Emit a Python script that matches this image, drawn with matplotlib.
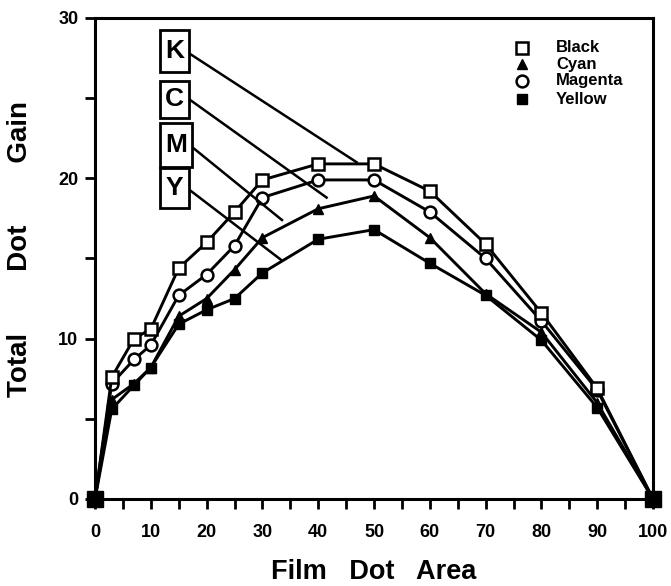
import matplotlib
matplotlib.use("Agg")
import matplotlib.pyplot as plt
from matplotlib.patches import Rectangle
from matplotlib.ticker import MultipleLocator

plt.rcParams['font.family'] = ['Liberation Sans', 'DejaVu Sans']

# ---- data ----
film_dot_area = [0, 3, 7, 10, 15, 20, 25, 30, 40, 50, 60, 70, 80, 90, 100]
black   = [0, 7.6, 10.0, 10.6, 14.4, 16.0, 17.9, 19.9, 20.9, 20.9, 19.2, 15.9, 11.6, 6.9, 0]
cyan    = [0, 6.2, 7.2, 8.2, 11.4, 12.5, 14.3, 16.3, 18.1, 18.9, 16.3, 12.8, 10.4, 6.0, 0]
magenta = [0, 7.2, 8.7, 9.6, 12.7, 14.0, 15.8, 18.8, 19.9, 19.9, 17.9, 15.0, 11.1, 6.8, 0]
yellow  = [0, 5.6, 7.1, 8.2, 10.9, 11.8, 12.5, 14.1, 16.2, 16.8, 14.7, 12.7, 9.9, 5.7, 0]

series_names = ["Black", "Cyan", "Magenta", "Yellow"]
box_letters = ["K", "C", "M", "Y"]
# leader lines: (start x, start y) -> (end x, end y) in data units
leader_start = [(16.85, 27.8), (17.0, 24.9), (17.4, 21.95), (16.85, 19.3)]
leader_end   = [(46.9, 21.0), (41.5, 18.8), (33.5, 17.4), (33.4, 14.9)]
# label boxes: (x0, y0, width, height) in data units
boxes = [(11.65, 26.64, 5.2, 2.62), (11.65, 23.77, 5.2, 2.31),
         (11.65, 20.71, 5.73, 2.75), (11.65, 18.15, 5.2, 2.5)]

styles = {
    "Black":   dict(marker='s', ms=9,   mfc='white', mec='black', mew=1.8),
    "Cyan":    dict(marker='^', ms=7.5, mfc='black', mec='black', mew=1.0),
    "Magenta": dict(marker='o', ms=8.5, mfc='white', mec='black', mew=1.8),
    "Yellow":  dict(marker='s', ms=7.5, mfc='black', mec='black', mew=1.0),
}
values = {"Black": black, "Cyan": cyan, "Magenta": magenta, "Yellow": yellow}
zorders = {"Yellow": 3, "Cyan": 3.5, "Magenta": 4, "Black": 5}

fig = plt.figure(figsize=(6.71, 5.86), dpi=100)
ax = fig.add_axes([0.1416, 0.1485, 0.8316, 0.8208])

for name in ["Yellow", "Cyan", "Magenta", "Black"]:
    ax.plot(film_dot_area, values[name], color='black', lw=2.1,
            zorder=zorders[name], **styles[name])
# endpoint squares at 0 and 100
ax.plot([film_dot_area[0], film_dot_area[-1]], [black[0], black[-1]], ls='none',
        marker='s', ms=11, color='black', zorder=6, clip_on=False)

# label boxes and leader lines
for (x0, y0, w, h), letter, (sx, sy), (ex, ey) in zip(boxes, box_letters, leader_start, leader_end):
    ax.add_patch(Rectangle((x0, y0), w, h, fill=True, facecolor='white',
                           edgecolor='black', lw=2.0, zorder=7))
    ax.text(x0 + w / 2, y0 + h / 2, letter, ha='center', va='center',
            fontsize=19, fontweight='bold', zorder=8)
    ax.plot([sx, ex], [sy, ey], color='black', lw=1.8, zorder=6)

# legend (manual placement, axes coordinates)
legend_rows_y = [0.938, 0.904, 0.870, 0.831]
for name, yy in zip(series_names, legend_rows_y):
    st = dict(styles[name])
    ax.plot([0.766], [yy], transform=ax.transAxes, ls='none', clip_on=False,
            color='black', **st)
    ax.text(0.826, yy, name, transform=ax.transAxes, ha='left', va='center',
            fontsize=12, fontweight='bold')

ax.set_xlim(0, 100)
ax.set_ylim(0, 30)
ax.xaxis.set_major_locator(MultipleLocator(10))
ax.xaxis.set_minor_locator(MultipleLocator(5))
ax.yaxis.set_major_locator(MultipleLocator(10))
ax.yaxis.set_minor_locator(MultipleLocator(5))
ax.tick_params(axis='both', which='both', direction='out', length=7, width=2)
ax.tick_params(axis='x', which='major', pad=11, labelsize=13)
ax.tick_params(axis='y', which='major', pad=5, labelsize=13)
for lab in ax.get_xticklabels() + ax.get_yticklabels():
    lab.set_fontweight('bold')
for sp in ax.spines.values():
    sp.set_linewidth(2.2)

ax.set_xlabel("Film   Dot   Area", fontsize=19.5, fontweight='bold', labelpad=13)
ax.set_ylabel("Total        Dot        Gain", fontsize=20, fontweight='bold')
ax.yaxis.set_label_coords(-0.112, 0.52)

fig.savefig("out.png", dpi=100)
